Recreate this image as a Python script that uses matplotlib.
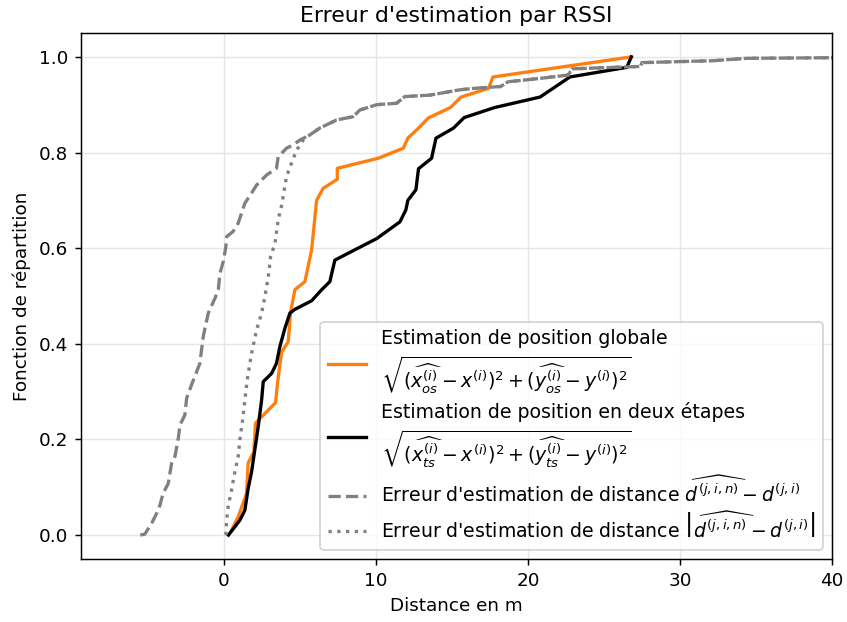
import matplotlib
matplotlib.use("Agg")
import matplotlib.pyplot as plt

# ECDF points
glob_x = [0.5, 0.94, 1.49, 1.6, 1.97, 2.08, 3.4, 3.55, 3.8, 4.23, 4.39, 4.67, 5.33, 5.77,
          6.1, 6.53, 7.46, 7.46, 10.15, 11.8, 12.1, 12.8, 13.44, 14.9, 15.6, 17.4, 17.7, 26.8]
glob_y = [0.01, 0.038, 0.087, 0.151, 0.174, 0.234, 0.277, 0.324, 0.383, 0.404, 0.467, 0.513,
          0.53, 0.596, 0.70, 0.725, 0.744, 0.767, 0.788, 0.809, 0.83, 0.851, 0.872, 0.894,
          0.916, 0.934, 0.958, 1.0]

two_x = [0.3, 1.05, 1.38, 1.6, 1.82, 2.26, 2.48, 2.59, 3.14, 3.46, 3.68, 4.01, 4.34, 4.67,
         5.77, 6.43, 6.97, 7.3, 10.05, 11.58, 11.97, 12.1, 12.63, 12.8, 13.66, 13.95, 15.1,
         15.8, 17.8, 20.8, 22.76, 26.5, 26.8]
two_y = [0.0, 0.031, 0.052, 0.098, 0.132, 0.227, 0.282, 0.321, 0.338, 0.359, 0.394, 0.432,
         0.464, 0.472, 0.49, 0.513, 0.53, 0.575, 0.62, 0.655, 0.68, 0.70, 0.722, 0.766,
         0.788, 0.83, 0.851, 0.873, 0.894, 0.916, 0.958, 0.978, 1.0]

dist_x = [-5.5, -5.2, -4.76, -4.43, -4.2, -4.0, -3.66, -3.44, -3.22, -3.0, -2.89, -2.57,
          -2.45, -2.13, -1.58, -1.36, -1.03, -0.59, -0.37, -0.26, -0.04, 0.13, 0.18, 0.61,
          0.94, 1.38, 1.82, 2.15, 2.81, 3.46, 3.57, 4.12, 4.56, 5.0, 5.66, 6.3, 7.41, 8.5,
          8.95, 10.05, 11.36, 11.9, 13.55, 15.5, 16.4, 18.2, 18.7, 20.8, 22.65, 22.9, 27.4,
          27.5, 32.2, 34.4, 48.0]
dist_y = [0.0, 0.002, 0.024, 0.045, 0.063, 0.087, 0.108, 0.15, 0.164, 0.202, 0.23, 0.251,
          0.286, 0.314, 0.359, 0.415, 0.464, 0.495, 0.513, 0.547, 0.572, 0.603, 0.624, 0.635,
          0.652, 0.694, 0.715, 0.732, 0.753, 0.767, 0.791, 0.809, 0.816, 0.826, 0.837, 0.851,
          0.868, 0.875, 0.889, 0.90, 0.903, 0.917, 0.92, 0.931, 0.934, 0.938, 0.948, 0.955,
          0.962, 0.975, 0.98, 0.988, 0.992, 0.997, 1.0]

abs_x = [0.13, 0.18, 0.28, 0.5, 0.72, 0.94, 1.05, 1.23, 1.38, 1.53, 1.82, 2.15, 2.48, 2.7,
         2.92, 3.07, 3.36, 3.57, 3.8, 4.12, 4.45, 4.78, 5.22, 5.66, 6.3, 7.41, 8.5, 8.95,
         10.05, 11.36, 11.9, 13.55, 15.5, 16.4, 18.2, 18.7, 20.8, 22.65, 22.9, 27.4, 27.5,
         32.2, 34.4, 48.0]
abs_y = [0.0, 0.031, 0.059, 0.094, 0.132, 0.164, 0.199, 0.24, 0.282, 0.324, 0.38, 0.429,
         0.464, 0.499, 0.54, 0.582, 0.61, 0.659, 0.69, 0.75, 0.778, 0.805, 0.826, 0.837,
         0.851, 0.868, 0.875, 0.889, 0.90, 0.903, 0.917, 0.92, 0.931, 0.934, 0.938, 0.948,
         0.955, 0.962, 0.975, 0.98, 0.988, 0.992, 0.997, 1.0]

lab_glob = ("Estimation de position globale\n"
            r"$\sqrt{(\widehat{x_{os}^{(i)}} - x^{(i)})^2 + (\widehat{y_{os}^{(i)}} - y^{(i)})^2}$")
lab_two = ("Estimation de position en deux étapes\n"
           r"$\sqrt{(\widehat{x_{ts}^{(i)}} - x^{(i)})^2 + (\widehat{y_{ts}^{(i)}} - y^{(i)})^2}$")
lab_dist = r"Erreur d'estimation de distance $\widehat{d^{(j,i,n)}} - d^{(j,i)}$"
lab_abs = r"Erreur d'estimation de distance $\left|\widehat{d^{(j,i,n)}} - d^{(j,i)}\right|$"

fig = plt.figure(figsize=(847/132, 622/132), dpi=132)
ax = fig.add_axes([0.0956, 0.1013, 0.8867, 0.8457])

ax.plot(glob_x, glob_y, color="tab:orange", lw=1.8, label=lab_glob)
ax.plot(two_x, two_y, color="black", lw=1.8, label=lab_two)
ax.plot(dist_x, dist_y, color="grey", lw=1.8, ls="--", label=lab_dist)
ax.plot(abs_x, abs_y, color="grey", lw=1.8, ls=":", label=lab_abs)

ax.set_xlim(-9.4, 40)
ax.set_ylim(-0.05, 1.05)
ax.grid(True, color="#e6e6e6", lw=0.8)
ax.set_title("Erreur d'estimation par RSSI")
ax.set_xlabel("Distance en m")
ax.set_ylabel("Fonction de répartition")
ax.legend(loc="lower right", fontsize=10.3, labelspacing=0.3)

fig.savefig("out.png", dpi=132)
